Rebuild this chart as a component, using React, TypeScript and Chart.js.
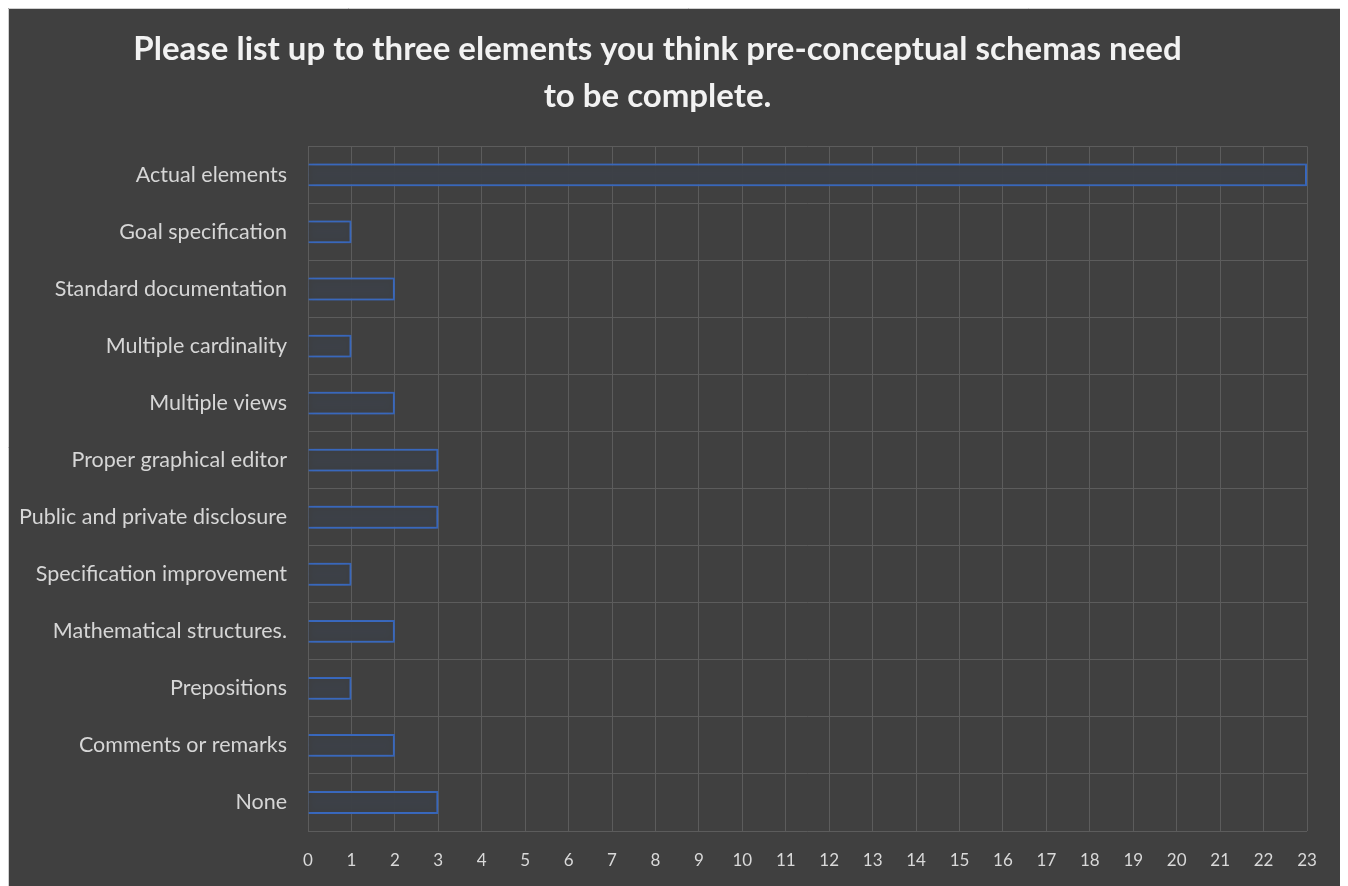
import React, { useEffect, useRef } from "react";
import { Chart, registerables } from "chart.js";

Chart.register(...registerables);

const TITLE_LINES = [
  "Please list up to three elements you think pre-conceptual schemas need",
  "to be complete.",
];
const CATEGORIES = [
  "Actual elements",
  "Goal specification",
  "Standard documentation",
  "Multiple cardinality",
  "Multiple views",
  "Proper graphical editor",
  "Public and private disclosure",
  "Specification improvement",
  "Mathematical structures.",
  "Prepositions",
  "Comments or remarks",
  "None",
];
const COUNTS = [23, 1, 2, 1, 2, 3, 3, 1, 2, 1, 2, 3];
const X_MIN = 0;
const X_MAX = 23;

const CANVAS_W = 1360;
const CANVAS_H = 878;

const glowPlugin = {
  id: "barGlow",
  beforeDatasetDraw(chart: any) {
    const ctx = chart.ctx;
    ctx.save();
    ctx.shadowColor = "rgba(70,120,210,0.8)";
    ctx.shadowBlur = 7;
  },
  afterDatasetDraw(chart: any) {
    chart.ctx.restore();
  },
};

const bgPlugin = {
  id: "bg",
  beforeDraw(chart: any) {
    const ctx = chart.ctx;
    ctx.save();
    ctx.fillStyle = "#404040";
    ctx.fillRect(0, 0, chart.width, chart.height);
    ctx.strokeStyle = "#cfcfcf";
    ctx.lineWidth = 1;
    ctx.beginPath();
    ctx.moveTo(0.5, chart.height);
    ctx.lineTo(0.5, 0.5);
    ctx.lineTo(chart.width, 0.5);
    ctx.stroke();
    ctx.restore();
  },
};

export default function App() {
  const ref = useRef<HTMLCanvasElement | null>(null);
  useEffect(() => {
    document.body.style.overflow = "hidden";
    const chart = new Chart(ref.current as HTMLCanvasElement, {
      type: "bar",
      data: {
        labels: CATEGORIES,
        datasets: [
          {
            data: COUNTS,
            backgroundColor: "rgba(60,60,60,0.9)",
            borderColor: "#3462b4",
            borderWidth: 2,
            barPercentage: 0.4,
            categoryPercentage: 1,
          },
        ],
      },
      options: {
        indexAxis: "y",
        animation: false,
        responsive: false,
        layout: { padding: { top: 0, right: CANVAS_W - 1299, bottom: 0, left: 0 } },
        plugins: {
          legend: { display: false },
          tooltip: { enabled: false },
          title: {
            display: true,
            text: TITLE_LINES,
            color: "#f2f2f2",
            font: { family: "Lato", size: 33, weight: "bold", lineHeight: 1.43 },
            padding: { top: 18, bottom: 26 },
          },
        },
        scales: {
          x: {
            type: "linear",
            min: X_MIN,
            max: X_MAX,
            ticks: {
              stepSize: 1,
              color: "#d9d9d9",
              font: { family: "Lato", size: 17 },
              padding: 19,
            },
            grid: { color: "#5c5c5c", lineWidth: 1, drawTicks: false },
            border: { display: false },
            afterFit(scale: any) {
              scale.height = 55;
            },
          },
          y: {
            ticks: {
              color: "#d6d6d6",
              font: { family: "Lato", size: 21.5 },
              padding: 21,
            },
            grid: { color: "#5c5c5c", lineWidth: 1, drawTicks: false },
            border: { display: false },
            afterFit(scale: any) {
              scale.width = 300;
            },
          },
        },
      },
      plugins: [bgPlugin, glowPlugin],
    });
    return () => chart.destroy();
  }, []);
  return (
    <div style={{ width: CANVAS_W, height: CANVAS_H }}>
      <canvas
        ref={ref}
        width={CANVAS_W}
        height={CANVAS_H}
        style={{ display: "block", width: CANVAS_W, height: CANVAS_H }}
      />
    </div>
  );
}
